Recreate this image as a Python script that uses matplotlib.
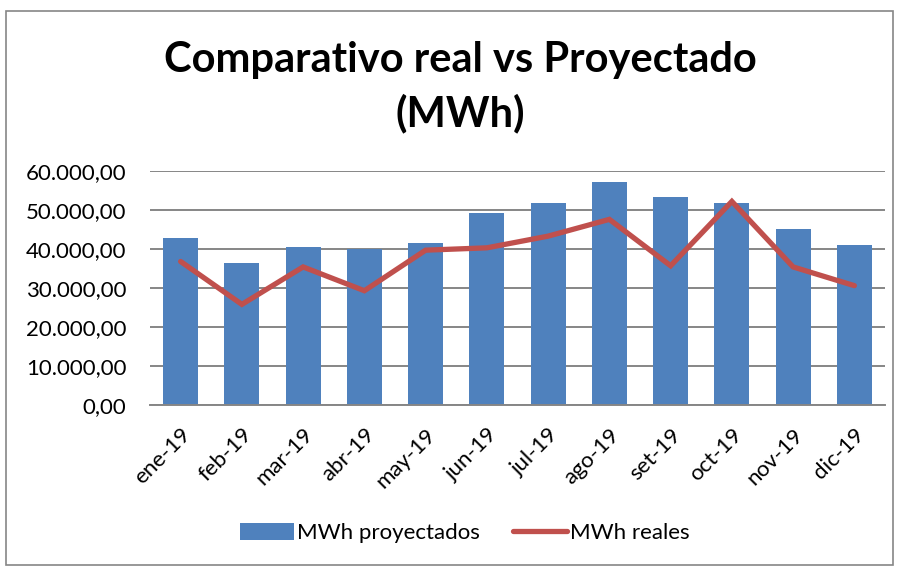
import numpy as np
import matplotlib.pyplot as plt
from matplotlib.patches import Rectangle
from matplotlib.ticker import FuncFormatter

meses = ['ene-19', 'feb-19', 'mar-19', 'abr-19', 'may-19', 'jun-19',
         'jul-19', 'ago-19', 'set-19', 'oct-19', 'nov-19', 'dic-19']
proyectados = [42700, 36500, 40500, 40100, 41600, 49300,
               51700, 57100, 53300, 51700, 45100, 41100]
reales = [36800, 25800, 35400, 29300, 39700, 40300,
          43300, 47600, 35700, 52200, 35400, 30600]

plt.rcParams['font.family'] = ['Lato', 'DejaVu Sans']

def fmt_es(v, pos):
    # formato 60.000,00
    s = '{:,.2f}'.format(v)
    return s.replace(',', 'X').replace('.', ',').replace('X', '.')

fig = plt.figure(figsize=(9, 5.67), dpi=100)
ax = fig.add_axes([150/900, 1 - 405/567, 735/900, 234/567])

x = np.arange(len(meses))
barras = ax.bar(x, proyectados, width=0.57, color='#4F81BD', label='MWh proyectados', zorder=2)
linea, = ax.plot(x, reales, color='#C0504D', lw=3.8, label='MWh reales', zorder=3,
                 solid_capstyle='round', solid_joinstyle='miter')

ax.set_ylim(0, 60000)
ax.set_xlim(-0.5, len(meses) - 0.5)
ax.set_yticks(np.arange(0, 60001, 10000))
ax.yaxis.set_major_formatter(FuncFormatter(fmt_es))
ax.grid(axis='y', color='#868686', lw=1.4, zorder=0)
ax.set_axisbelow(True)
for s in ['left', 'right', 'top']:
    ax.spines[s].set_visible(False)
ax.spines['bottom'].set_color('#868686')
ax.spines['bottom'].set_linewidth(1.4)
ax.tick_params(axis='y', length=0, labelsize=16, pad=17)
ax.tick_params(axis='x', length=0, labelsize=16, pad=14)
ax.set_xticks(x)
ax.set_xticklabels(meses, rotation=45, ha='right', rotation_mode='anchor')

fig.text(460/900, 1 - 87/567, 'Comparativo real vs Proyectado\n(MWh)', ha='center', va='center',
         fontsize=30, fontweight='bold', linespacing=1.45)

fig.legend([barras, linea], ['MWh proyectados', 'MWh reales'], loc='center',
           bbox_to_anchor=(465/900, 1 - 533/567), ncol=2, frameon=False,
           fontsize=16, handlelength=2.4, handleheight=0.85, columnspacing=1.5, handletextpad=0.15)

fig.patches.append(Rectangle((6/900, 2/567), 887/900, 554/567, transform=fig.transFigure,
                             fill=False, edgecolor='#868686', lw=1.2))

fig.savefig('out.png', dpi=100)
